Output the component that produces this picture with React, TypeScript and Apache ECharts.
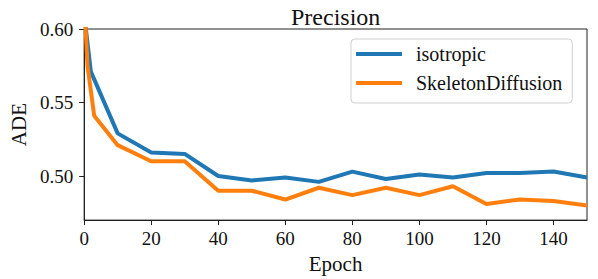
import React, { useEffect, useRef } from "react";
import * as echarts from "echarts";

const epochsIso = [0, 2, 10, 20, 30, 40, 50, 60, 70, 80, 90, 100, 110, 120, 130, 140, 150];
const iso = [0.61, 0.571, 0.529, 0.516, 0.515, 0.5, 0.497, 0.499, 0.496, 0.503, 0.498, 0.501, 0.499, 0.502, 0.502, 0.503, 0.499];
const epochsSkel = [0, 1, 3, 10, 20, 30, 40, 50, 60, 70, 80, 90, 100, 110, 120, 130, 140, 150];
const skel = [0.62, 0.575, 0.541, 0.521, 0.51, 0.51, 0.49, 0.49, 0.484, 0.492, 0.487, 0.492, 0.487, 0.493, 0.481, 0.484, 0.483, 0.48];
const xTicks = [0, 20, 40, 60, 80, 100, 120, 140];
const yTicks = [0.5, 0.55, 0.6];
const seriesNames = ["isotropic", "SkeletonDiffusion"];
const colors = ["#1f77b4", "#ff7f0e"];

const FONT = "'Liberation Serif', 'DejaVu Serif', serif";

export default function App() {
  const ref = useRef<HTMLDivElement>(null);
  useEffect(() => {
    if (!ref.current) return;
    const chart = echarts.init(ref.current, null, { renderer: "svg" });
    const axisLine = { show: true, lineStyle: { color: "#222", width: 1 } };
    chart.setOption({
      animation: false,
      textStyle: { fontFamily: FONT },
      title: {
        text: "Precision",
        left: 286,
        top: 0,
        textStyle: { fontFamily: FONT, fontSize: 24, fontWeight: "normal", color: "#111" },
      },
      grid: { left: 81, right: 11, top: 29, bottom: 56, show: true, borderColor: "#222", borderWidth: 1 },
      legend: {
        orient: "vertical",
        left: 351,
        top: 39,
        padding: [5, 10, 10, 5],
        itemGap: 9,
        itemWidth: 46,
        itemHeight: 4,
        icon: "rect",
        borderColor: "#d0d0d0",
        borderWidth: 1,
        borderRadius: 4,
        textStyle: { fontFamily: FONT, fontSize: 20, color: "#111", padding: [0, 0, 0, 9] },
        data: seriesNames,
      },
      xAxis: {
        type: "value",
        min: 0,
        max: 150,
        name: "Epoch",
        nameLocation: "middle",
        nameGap: 30,
        nameTextStyle: { fontFamily: FONT, fontSize: 21, color: "#111" },
        axisLine,
        axisTick: { show: true, length: 5, lineStyle: { color: "#222" }, customValues: xTicks },
        axisLabel: { fontFamily: FONT, fontSize: 19, color: "#111", margin: 9, customValues: xTicks },
        splitLine: { show: false },
      },
      yAxis: {
        type: "value",
        min: 0.47,
        max: 0.6,
        name: "ADE",
        nameLocation: "middle",
        nameGap: 53,
        nameTextStyle: { fontFamily: FONT, fontSize: 21, color: "#111" },
        axisLine,
        axisTick: { show: true, length: 5, lineStyle: { color: "#222" }, customValues: yTicks },
        axisLabel: {
          fontFamily: FONT,
          fontSize: 19,
          color: "#111",
          margin: 11,
          customValues: yTicks,
          formatter: (v: number) => v.toFixed(2),
        },
        splitLine: { show: false },
      },
      series: [
        {
          name: seriesNames[0],
          type: "line",
          data: epochsIso.map((e, i) => [e, iso[i]]),
          showSymbol: false,
          symbol: "none",
          lineStyle: { color: colors[0], width: 4 },
          itemStyle: { color: colors[0] },
          clip: true,
        },
        {
          name: seriesNames[1],
          type: "line",
          data: epochsSkel.map((e, i) => [e, skel[i]]),
          showSymbol: false,
          symbol: "none",
          lineStyle: { color: colors[1], width: 4 },
          itemStyle: { color: colors[1] },
          clip: true,
        },
      ],
    });
    return () => chart.dispose();
  }, []);
  return <div ref={ref} style={{ width: 598, height: 279, position: "absolute", left: 0, top: 0 }} />;
}
